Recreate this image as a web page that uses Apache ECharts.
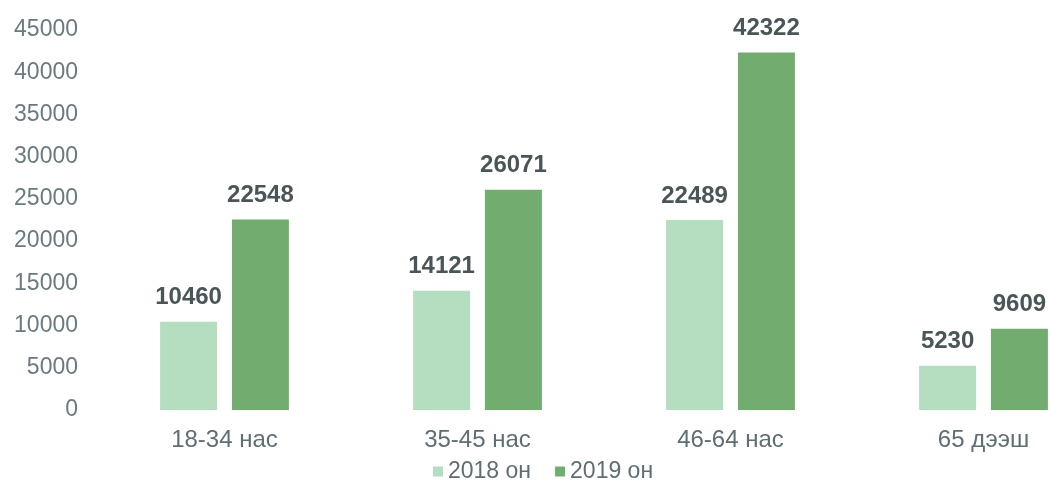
<!DOCTYPE html>
<html>
<head>
<meta charset="utf-8">
<script src="https://cdn.jsdelivr.net/npm/echarts@6/dist/echarts.min.js"></script>
<style>
  html, body { margin: 0; padding: 0; background: #fff; overflow: hidden; }
  /* the original is cropped on the right, so the canvas runs past the window */
  #chart { width: 1112px; height: 490px; }
</style>
</head>
<body>
<div id="chart"></div>
<script>
// age groups and the two years
var categories = ["18-34 нас", "35-45 нас", "46-64 нас", "65 дээш"];
var values2018 = [10460, 14121, 22489, 5230];
var values2019 = [22548, 26071, 42322, 9609];
var seriesNames = ["2018 он", "2019 он"];

var chart = echarts.init(document.getElementById("chart"));

var labelStyle = {
    show: true,
    position: "top",
    distance: 12,
    color: "#4a5558",
    fontWeight: "bold",
    fontSize: 24,
    fontFamily: "Liberation Sans"
};

chart.setOption({
    animation: false,
    textStyle: { fontFamily: "Liberation Sans" },
    grid: { left: 98, top: 30, right: 2, height: 380, containLabel: false },
    legend: {
        data: seriesNames,
        bottom: 2,
        left: 428,
        icon: "rect",
        itemWidth: 10,
        itemHeight: 10,
        itemGap: 24,
        textStyle: { color: "#5f6e74", fontSize: 23 }
    },
    xAxis: {
        type: "category",
        data: categories,
        axisLine: { show: false },
        axisTick: { show: false },
        axisLabel: { color: "#5f6e74", fontSize: 24, margin: 18 }
    },
    yAxis: {
        type: "value",
        min: 0,
        max: 45000,
        interval: 5000,
        splitLine: { show: false },
        axisLine: { show: false },
        axisTick: { show: false },
        axisLabel: {
            color: "#6b7a80",
            fontSize: 23,
            margin: 20,
            formatter: function (v) { return String(v); }
        }
    },
    series: [{
        name: seriesNames[0],
        type: "bar",
        data: values2018,
        barWidth: 57,
        barGap: "26%",
        itemStyle: { color: "#b5ddbf" },
        label: labelStyle
    }, {
        name: seriesNames[1],
        type: "bar",
        data: values2019,
        barWidth: 57,
        itemStyle: { color: "#72ad6f" },
        label: labelStyle
    }]
});
</script>
</body>
</html>
